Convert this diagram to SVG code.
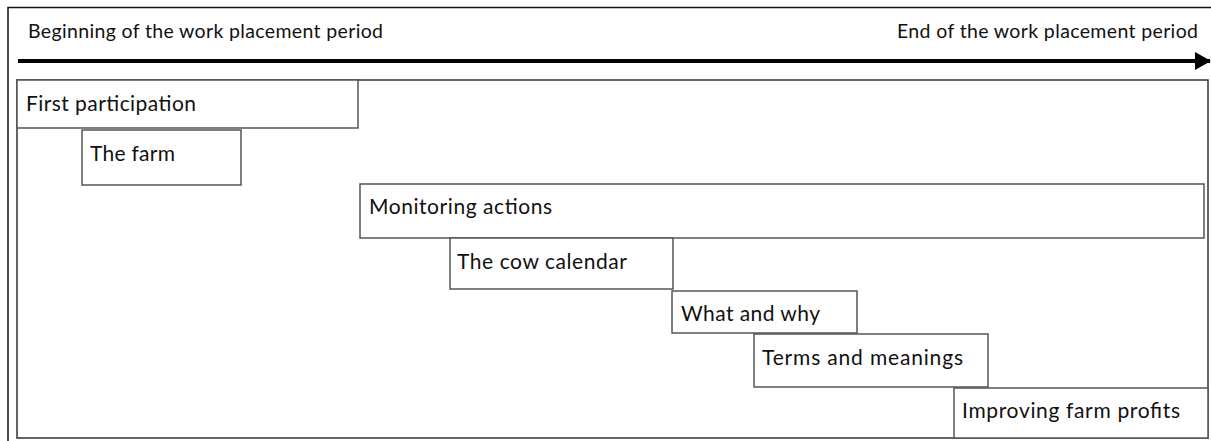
<svg xmlns="http://www.w3.org/2000/svg" width="1211" height="441" viewBox="0 0 1211 441">
<defs>
<style>
.box{fill:#fff;stroke:#555;stroke-width:1.5}
.t{font-family:Lato,"Open Sans","Liberation Sans",sans-serif;font-size:21px;fill:#111}
.h{font-family:Lato,"Open Sans","Liberation Sans",sans-serif;font-size:19.5px;fill:#111}
</style>
<marker id="ah" markerWidth="16" markerHeight="18" refX="15" refY="9" orient="auto" markerUnits="userSpaceOnUse">
<path d="M0,0 L16,9 L0,18 Z" fill="#000"/>
</marker>
</defs>
<rect width="1211" height="441" fill="#fff"/>
<path d="M8,445 V7.5 H1215" fill="none" stroke="#111" stroke-width="1.5"/>
<text class="h" x="28" y="38" textLength="355" lengthAdjust="spacing">Beginning of the work placement period</text>
<text class="h" x="897" y="38" textLength="301" lengthAdjust="spacing">End of the work placement period</text>
<g id="connectors">
<line x1="18" y1="61" x2="1210" y2="61" stroke="#000" stroke-width="4" marker-end="url(#ah)"/>
</g>
<rect id="frame" class="box" x="17" y="80" width="1191" height="358" style="stroke:#333"/>
<g id="n1"><rect class="box" x="17" y="80" width="341" height="48"/><text class="t" x="26" y="111" textLength="170" lengthAdjust="spacing">First participation</text></g>
<g id="n2"><rect class="box" x="82" y="130" width="159" height="55"/><text class="t" x="90" y="161" textLength="85" lengthAdjust="spacing">The farm</text></g>
<g id="n3"><rect class="box" x="360" y="184" width="844" height="54"/><text class="t" x="369" y="214" textLength="183" lengthAdjust="spacing">Monitoring actions</text></g>
<g id="n4"><rect class="box" x="450" y="238" width="223" height="51"/><text class="t" x="457" y="269" textLength="170" lengthAdjust="spacing">The cow calendar</text></g>
<g id="n5"><rect class="box" x="672" y="291" width="185" height="42"/><text class="t" x="681" y="321" textLength="139" lengthAdjust="spacing">What and why</text></g>
<g id="n6"><rect class="box" x="754" y="334" width="234" height="53"/><text class="t" x="762" y="365" textLength="201" lengthAdjust="spacing">Terms and meanings</text></g>
<g id="n7"><rect class="box" x="954" y="388" width="254" height="50"/><text class="t" x="962" y="418" textLength="218" lengthAdjust="spacing">Improving farm profits</text></g>
</svg>
